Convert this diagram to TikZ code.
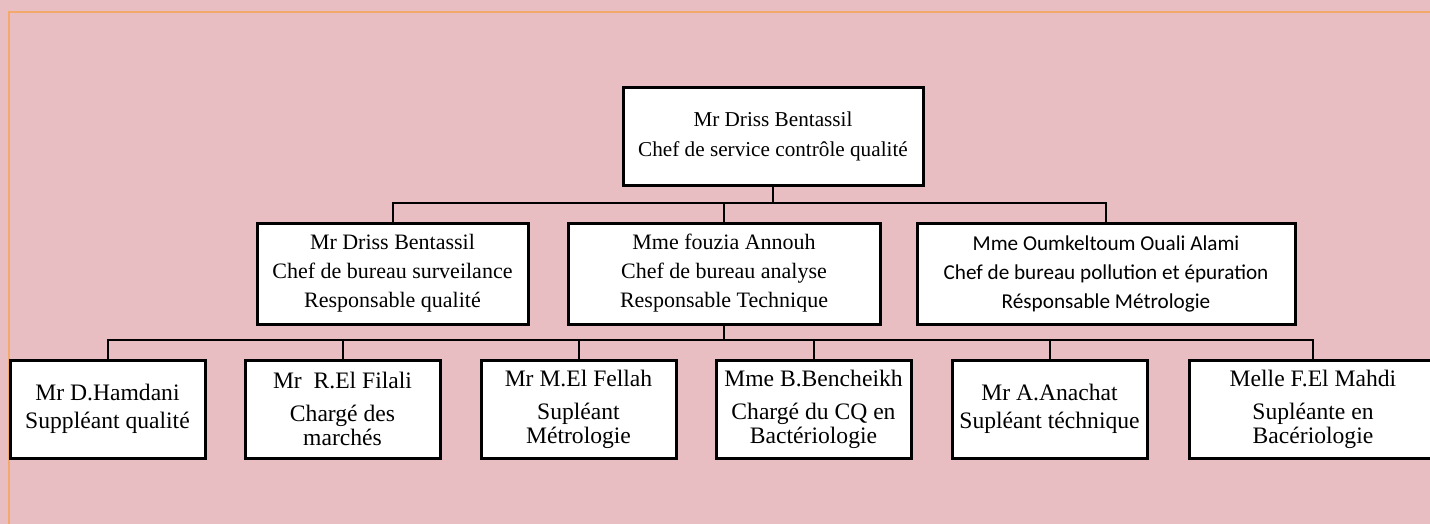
\documentclass[tikz,border=0pt]{standalone}
\usepackage{fontspec}
\setmainfont{Liberation Serif}
\newfontfamily\calibri{Carlito}
\usepackage{tikz}
\usetikzlibrary{positioning}

\definecolor{fond}{HTML}{E9BEC3}
\definecolor{cadre}{HTML}{F2A96B}

\tikzset{
  poste/.style={draw=black, line width=1.5pt, fill=white, align=center, inner sep=2pt},
  haut/.style={poste, minimum width=150pt, minimum height=48.5pt, font=\fontsize{10.6}{15}\selectfont},
  milieu/.style={poste, minimum height=50.5pt, font=\fontsize{11}{14.5}\selectfont},
  bas/.style={poste, minimum width=97.5pt, minimum height=49pt, font=\fontsize{11.8}{12}\selectfont},
  lien/.style={line width=1pt}
}

\begin{document}
\begin{tikzpicture}[x=0.5pt, y=-0.5pt, on grid]
   % 背景
   \fill[fond] (0,0) rectangle (1430,524);
   \useasboundingbox (0,0) rectangle (1430,524);
   \draw[cadre, line width=1pt] (9,12) rectangle (1460,560);

   % 第一层
   \node[haut] (chef) at (773,136.5) {Mr Driss Bentassil\\Chef de service contrôle qualité};

   % 第二层
   \node[milieu, minimum width=156pt] (m2) at (724,273.5) {Mme fouzia Annouh\\Chef de bureau analyse\\Responsable Technique};
   \node[milieu, minimum width=135.5pt] (m1) [left=165.75pt of m2] {Mr Driss Bentassil\\Chef de bureau surveilance\\Responsable qualité};
   \node[milieu, minimum width=189pt, font=\calibri\fontsize{10.6}{14.5}\selectfont] (m3) [right=191pt of m2] {Mme Oumkeltoum Ouali Alami\\Chef de bureau pollution et épuration\\Résponsable Métrologie};

   % 第三层
   \node[bas] (b1) at (107.5,409) {Mr D.Hamdani\\[2pt]Suppléant qualité};
   \node[bas] (b2) [right=117.5pt of b1] {Mr~~R.El Filali\\[4.5pt]Chargé des\\marchés};
   \node[bas] (b3) [right=118pt of b2] {Mr M.El Fellah\\[4.5pt]Supléant\\Métrologie};
   \node[bas] (b4) [right=117.5pt of b3] {Mme B.Bencheikh\\[4.5pt]Chargé du CQ en\\Bactériologie};
   \node[bas] (b5) [right=118pt of b4] {Mr A.Anachat\\[2pt]Supléant téchnique};
   \node[bas, minimum width=124pt] (b6) [right=131.75pt of b5] {Melle F.El Mahdi\\[4.5pt]Supléante en\\Bacériologie};

   % 连线
   \coordinate (bus1) at (773,203);
   \coordinate (bus2) at (724,340);
   \draw[lien] (chef.south) -- (bus1);
   \draw[lien] (m1.north) |- (bus1) -| (m3.north);
   \draw[lien] (m2.north) -- (m2.north |- bus1);
   \draw[lien] (m2.south) -- (bus2);
   \draw[lien] (b1.north) |- (bus2) -| (b6.north);
   \foreach \b in {b2,b3,b4,b5}
      \draw[lien] (\b.north) -- (\b.north |- bus2);
\end{tikzpicture}
\end{document}
